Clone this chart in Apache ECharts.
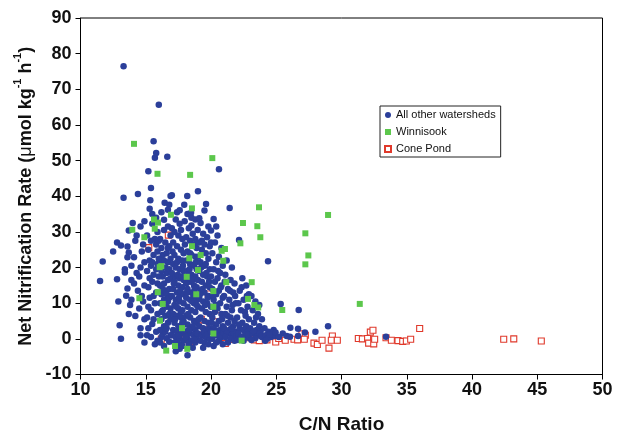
<!DOCTYPE html>
<html>
<head>
<meta charset="utf-8">
<style>html,body{margin:0;padding:0;background:#fff;}#c{width:629px;height:436px;}</style>
<script src="https://cdn.jsdelivr.net/npm/echarts@6/dist/echarts.min.js"></script>
</head>
<body>
<div id="c"></div>
<script>
// ---- DATA ----
const xTicks = {min: 10, max: 50, interval: 5};
const yTicks = {min: -10, max: 90, interval: 10};
const seriesNames = ['All other watersheds', 'Winnisook', 'Cone Pond'];

const allOther = [
[11.5,16.2],[11.7,21.7],
[12.5,24.5],[12.8,27.0],[12.8,16.7],[12.9,10.5],
[13.0,3.8],[13.1,0.0],[13.1,26.2],[13.3,76.5],[13.3,39.6],[13.4,18.6],[13.5,12.1],[13.6,14.1],[13.6,22.9],[13.6,25.9],[13.7,24.2],[13.7,7.0],[13.7,30.4],[13.9,16.5],[13.9,20.5],[13.8,9.5],[13.4,19.5],[13.9,11.0],
[14.0,32.5],[14.1,22.9],[14.2,6.4],[14.4,40.6],[14.2,27.5],[14.3,29.0],[14.5,17.5],[14.6,20.0],[14.4,13.5],[14.7,24.5],[14.8,10.5],[14.6,3.0],[14.9,21.5],[14.9,15.0],[14.5,8.5],[14.8,26.5],[14.3,18.5],[14.7,12.0],[14.9,5.5],[14.9,33.0],[14.6,31.5],[14.1,15.5],[14.9,-1.0],[14.6,1.0],
[15.1,1.0],[15.2,47.0],[15.4,42.3],[15.35,38.9],[15.5,4.2],[15.5,32.3],[15.6,55.4],[15.7,50.8],[15.8,52.1],[16.0,65.7],[15.1,29.0],[15.2,25.0],[15.3,22.0],[15.4,20.5],[15.6,18.0],[15.5,16.0],[15.2,14.5],[15.8,13.0],[15.3,11.5],[15.7,10.0],[15.4,8.0],[15.9,7.0],[15.6,5.5],[15.2,3.0],[15.8,2.0],[15.4,0.5],[15.9,-0.5],[15.6,23.5],[15.9,21.0],[15.8,26.5],[15.1,19.0],[15.7,28.0],[15.5,35.0],[15.9,30.0],[15.3,17.0],[15.6,12.0],[15.9,15.5],[15.2,9.0],[15.8,19.5],[15.4,27.5],[15.7,-1.5],[15.1,6.0],[15.9,24.5],[15.5,21.5],[15.3,36.5],[15.8,34.0],
[16.1,-1.0],[16.2,0.5],[16.3,1.5],[16.1,2.5],[16.4,3.5],[16.6,0.2],[16.8,-0.8],[16.5,2.0],[16.9,1.0],[16.7,4.5],
[16.2,5.5],[16.5,6.5],[16.8,7.0],[16.3,8.0],[16.6,9.0],[16.9,8.5],[16.1,10.0],[16.4,11.0],[16.7,10.5],[16.9,12.0],
[16.2,12.5],[16.5,13.5],[16.8,14.0],[16.1,15.0],[16.4,15.5],[16.7,16.5],[16.9,17.0],[16.3,17.5],[16.6,18.5],[16.2,19.0],
[16.5,20.0],[16.8,19.5],[16.1,21.0],[16.4,22.0],[16.7,21.5],[16.9,22.5],[16.3,23.5],[16.6,24.0],[16.2,25.5],[16.8,26.0],
[16.5,27.0],[16.1,28.0],[16.9,29.0],[16.4,30.5],[16.7,31.5],[16.4,33.4],[16.45,38.2],[16.8,37.6],[16.65,51.1],[16.9,40.1],
[16.3,14.0],[16.6,12.5],[16.0,17.5],[16.9,5.5],[16.2,7.5],[16.6,3.0],[16.4,-2.0],[16.8,11.5],[16.0,22.5],[16.7,25.5],[16.2,35.5],[16.0,27.5],[16.7,36.2],
[17.0,40.3],[17.4,35.5],[17.6,36.1],[17.95,37.6],[17.6,32.3],[17.98,33.0],[17.2,30.0],[17.5,29.0],[17.8,28.0],[17.1,27.0],
[17.4,26.0],[17.7,25.0],[17.9,24.0],[17.2,23.5],[17.5,22.5],[17.8,22.0],[17.1,21.0],[17.3,20.0],[17.6,19.5],[17.9,19.0],
[17.0,18.5],[17.3,17.5],[17.6,17.0],[17.9,16.5],[17.2,16.0],[17.5,15.0],[17.8,14.5],[17.1,14.0],[17.4,13.0],[17.7,12.5],
[17.0,12.0],[17.3,11.0],[17.6,10.5],[17.9,10.0],[17.2,9.5],[17.5,8.5],[17.8,8.0],[17.1,7.0],[17.4,6.5],[17.7,6.0],
[17.9,5.0],[17.2,4.5],[17.5,3.5],[17.8,3.0],[17.1,2.5],[17.4,2.0],[17.7,1.5],[17.0,1.0],[17.3,0.5],[17.6,0.0],
[17.9,-0.5],[17.2,-1.0],[17.5,-1.5],[17.8,-2.0],[17.3,-3.5],[17.6,-2.8],[17.45,18.0],[17.65,13.5],[17.85,20.5],[17.15,15.5],
[17.35,9.0],[17.55,11.5],[17.75,17.5],[17.25,5.5],[17.95,12.5],[17.05,24.5],[17.5,1.0],[17.8,4.5],[17.4,21.5],[17.7,7.5],[17.3,33.5],[17.7,30.5],[17.0,31.0],
[18.18,40.1],[18.2,35.0],[18.5,34.0],[18.8,33.5],[18.3,31.0],[18.98,30.5],[18.6,29.5],[18.1,28.5],[18.4,27.5],[18.7,26.5],
[18.9,25.5],[18.2,24.5],[18.5,23.5],[18.8,23.0],[18.1,22.0],[18.4,21.0],[18.7,20.5],[18.9,19.5],[18.2,19.0],[18.5,18.0],
[18.8,17.5],[18.1,16.5],[18.4,16.0],[18.7,15.0],[18.9,14.5],[18.2,14.0],[18.5,13.0],[18.8,12.5],[18.1,11.5],[18.4,11.0],
[18.7,10.0],[18.9,9.5],[18.2,9.0],[18.5,8.0],[18.8,7.5],[18.1,6.5],[18.4,6.0],[18.7,5.0],[18.9,4.5],[18.2,4.0],
[18.5,3.0],[18.8,2.5],[18.1,2.0],[18.4,1.5],[18.7,1.0],[18.9,0.5],[18.2,0.0],[18.5,-0.5],[18.8,-1.0],[18.3,-1.5],
[18.6,-2.5],[18.2,-4.6],[18.45,17.0],[18.65,12.0],[18.35,19.5],[18.75,14.0],[18.15,13.0],[18.55,10.5],[18.85,21.5],[18.25,7.0],
[18.6,3.5],[18.3,2.5],[18.9,1.5],[18.05,0.5],[18.7,-0.2],[18.4,24.0],[18.8,28.0],[18.1,15.5],[18.6,16.5],[18.95,11.0],[18.5,31.8],[18.47,35.4],[18.0,26.5],
[19.0,41.4],[19.62,37.8],[19.5,36.0],[19.2,32.5],[19.8,31.5],[19.4,29.5],[19.7,28.5],[19.1,27.0],[19.9,26.0],[19.3,25.0],
[19.6,24.0],[19.0,23.0],[19.8,22.5],[19.2,21.5],[19.5,20.5],[19.9,19.5],[19.1,19.0],[19.4,18.0],[19.7,17.5],[19.0,16.5],
[19.3,16.0],[19.6,15.0],[19.9,14.5],[19.2,13.5],[19.5,13.0],[19.8,12.0],[19.1,11.5],[19.4,10.5],[19.7,10.0],[19.0,9.0],
[19.3,8.5],[19.6,7.5],[19.9,7.0],[19.2,6.0],[19.5,5.0],[19.8,4.5],[19.1,3.5],[19.4,3.0],[19.7,2.0],[19.0,1.5],
[19.3,1.0],[19.6,0.5],[19.9,0.0],[19.2,-0.5],[19.5,-1.0],[19.8,-1.5],[19.4,-2.5],[19.65,18.5],[19.35,14.0],[19.85,16.0],
[19.15,12.5],[19.55,9.5],[19.75,11.5],[19.25,20.0],[19.45,2.0],[19.85,3.0],[19.05,5.5],[19.6,21.0],[19.3,27.5],[19.7,1.2],[19.1,33.8],[19.5,26.5],
[20.2,33.6],[20.0,30.4],[20.61,47.6],[20.5,29.0],[20.3,27.0],[20.8,25.5],[20.1,24.0],[20.6,23.0],[20.4,21.5],[20.9,20.5],
[20.2,19.5],[20.7,18.5],[20.0,17.5],[20.5,17.0],[20.3,16.0],[20.8,15.0],[20.1,14.0],[20.6,13.5],[20.4,12.5],[20.9,11.5],
[20.2,11.0],[20.7,10.0],[20.0,9.0],[20.5,8.5],[20.3,7.5],[20.8,7.0],[20.1,6.0],[20.6,5.0],[20.4,4.0],[20.9,3.5],
[20.2,3.0],[20.7,2.5],[20.0,2.0],[20.5,1.5],[20.3,1.0],[20.8,0.5],[20.1,0.0],[20.6,-0.5],[20.4,-1.0],[20.9,-1.5],
[20.2,-2.0],[20.75,14.5],[20.35,9.5],[20.55,19.0],[20.15,12.0],[20.85,5.5],[20.45,2.2],[20.65,0.8],[20.05,4.5],[20.95,1.8],[20.4,31.5],[20.0,27.0],
[21.43,36.7],[21.2,22.0],[21.6,20.0],[21.1,18.0],[21.5,16.5],[21.8,15.5],[21.3,14.0],[21.7,13.0],[21.0,12.0],[21.4,11.0],
[21.9,10.0],[21.2,9.0],[21.6,8.0],[21.1,7.0],[21.5,6.0],[21.8,5.0],[21.3,4.5],[21.7,3.5],[21.0,3.0],[21.4,2.5],
[21.9,2.0],[21.2,1.5],[21.6,1.0],[21.1,0.5],[21.5,0.0],[21.8,-0.5],[21.3,-1.0],[21.7,1.8],[21.45,13.5],[21.65,9.5],
[21.25,6.5],[21.85,12.0],[21.05,16.0],[21.55,3.0],[21.95,0.8],
[22.15,27.7],[22.4,17.0],[22.7,15.0],[22.2,13.5],[22.9,12.5],[22.5,11.0],[22.1,10.0],[22.8,9.0],[22.3,8.0],[22.6,7.5],
[22.0,6.0],[22.9,5.5],[22.4,4.5],[22.7,3.5],[22.2,3.0],[22.5,2.5],[22.8,2.0],[22.1,1.5],[22.6,1.0],[22.3,0.5],
[22.9,0.3],[22.0,-0.3],[22.5,-0.5],[22.75,12.0],[22.35,14.5],[22.65,6.5],[22.15,4.0],[22.85,1.2],
[23.1,12.0],[23.4,10.5],[23.7,9.5],[23.2,8.0],[23.6,7.0],[23.9,5.5],[23.3,4.5],[23.7,3.5],[23.0,3.0],[23.5,2.5],
[23.8,2.0],[23.2,1.5],[23.6,1.0],[23.9,0.5],[23.4,0.2],[23.1,-0.3],[23.75,1.5],[23.45,6.0],[23.85,0.8],[23.25,2.2],
[24.37,21.8],[24.1,3.0],[24.4,2.0],[24.7,1.5],[24.2,1.0],[24.6,0.5],[24.9,0.8],[24.3,0.0],[24.8,2.5],[24.5,1.2],[24.95,1.8],[24.15,-0.5],
[25.34,9.8],[25.5,1.5],[25.2,0.5],[25.8,0.8],[26.08,3.1],[26.67,2.8],[26.05,0.6],[26.67,0.8],[26.72,8.1],[27.2,1.8],[28.0,2.0],[28.97,3.5],[33.41,0.6]
];

const winnisook = [
[14.1,54.7],[15.9,46.3],[18.4,46.0],[20.1,50.7],
[23.68,36.9],[28.97,34.75],[22.45,32.5],[23.55,31.6],[27.23,29.6],[23.78,28.5],[22.25,26.8],[20.82,24.7],[21.07,25.2],
[27.46,23.4],[27.23,20.9],[20.94,21.9],[21.17,15.9],[23.12,15.9],[22.84,11.2],[23.32,9.5],[23.62,8.8],[25.46,8.1],
[31.4,9.8],[20.18,9.0],[22.35,-0.5],
[18.54,36.6],[16.93,34.8],[15.63,33.5],[15.94,32.6],[13.97,30.6],[15.69,30.9],[14.89,28.5],[18.54,26.0],[18.34,22.6],
[19.21,23.5],[16.19,20.4],[16.07,20.1],[19.0,19.3],[18.14,17.4],[20.18,13.4],[15.92,13.1],[14.51,11.4],[18.87,12.5],
[16.3,9.8],[16.09,5.1],[17.78,3.0],[17.24,-2.0],[16.57,-3.3],[18.18,-2.8],[20.18,1.5]
];

const conePond = [
[16.73,29.1],[15.23,25.6],[19.79,12.6],[19.26,5.5],[19.46,3.6],[20.46,6.5],[21.05,2.1],[21.1,-1.3],[21.63,-0.2],
[22.78,0.3],[23.32,-0.3],[23.7,-0.5],[24.29,-0.3],[24.96,-0.9],[25.19,0.1],[25.69,-0.4],[16.19,-0.1],[17.65,-0.1],
[18.34,-1.0],[19.16,1.1],[20.51,1.5],[21.86,-0.2],[26.36,-0.1],[26.64,-0.3],[26.97,1.4],[27.23,1.0],[27.15,-0.1],
[27.89,-1.2],[28.15,-1.6],[28.51,-0.4],[29.04,-2.6],[29.3,0.8],[29.22,-0.4],[29.68,-0.4],[31.29,0.1],[31.6,0.0],
[32.0,0.1],[32.08,-1.2],[32.21,1.9],[32.41,2.4],[32.47,-1.4],[32.54,-0.1],[33.41,0.3],[33.82,-0.4],[34.33,-0.5],
[34.69,-0.7],[34.97,-0.6],[35.3,-0.1],[35.99,2.9],[42.43,-0.1],[43.2,0.0],[45.31,-0.6]
];

// ---- CHART ----
const FONT = '"Liberation Sans", Arial, sans-serif';
const chart = echarts.init(document.getElementById('c'), null, {renderer: 'canvas'});
chart.setOption({
  animation: false,
  backgroundColor: '#fff',
  grid: {left: 80.5, right: 26.5, top: 18, bottom: 61.5, containLabel: false, outerBoundsMode: 'none',
         show: true, borderColor: '#000', borderWidth: 1, backgroundColor: 'transparent'},
  legend: {
    data: [
      {name: seriesNames[0]},
      {name: seriesNames[1]},
      {name: seriesNames[2]}
    ],
    orient: 'vertical', left: 380, top: 106,
    padding: [3, 5, 2, 4],
    itemWidth: 6, itemHeight: 6, itemGap: 5,
    borderColor: '#222', borderWidth: 1, backgroundColor: '#fff',
    textStyle: {fontFamily: FONT, fontSize: 11, color: '#111', lineHeight: 12}
  },
  xAxis: {
    type: 'value', min: xTicks.min, max: xTicks.max, interval: xTicks.interval,
    name: 'C/N Ratio', nameLocation: 'middle', nameGap: 41,
    nameTextStyle: {fontFamily: FONT, fontSize: 19, fontWeight: 'bold', color: '#111'},
    axisLine: {show: true, onZero: false, lineStyle: {color: '#000', width: 1}},
    axisTick: {show: true, inside: false, length: 5, lineStyle: {color: '#000'}},
    axisLabel: {fontFamily: FONT, fontSize: 18, fontWeight: 'bold', color: '#111', margin: 7},
    splitLine: {show: false}
  },
  yAxis: {
    type: 'value', min: yTicks.min, max: yTicks.max, interval: yTicks.interval,
    name: '{a|Net Nitrification Rate (}{m|μ}{a|mol kg}{s|-1}{a| h}{s|-1}{a|)}',
    nameLocation: 'middle', nameGap: 43,
    nameTextStyle: {
      fontFamily: FONT, color: '#111',
      rich: {
        a: {fontFamily: FONT, fontSize: 18, fontWeight: 'bold', color: '#111', lineHeight: 22, verticalAlign: 'bottom'},
        m: {fontFamily: FONT, fontSize: 18, fontWeight: 'normal', color: '#111', lineHeight: 22, verticalAlign: 'bottom'},
        s: {fontFamily: FONT, fontSize: 11, fontWeight: 'bold', color: '#111', lineHeight: 22, verticalAlign: 'top', padding: [0, 0, 6, 0]}
      }
    },
    axisLine: {show: true, onZero: false, lineStyle: {color: '#000', width: 1}},
    axisTick: {show: true, inside: false, length: 5, lineStyle: {color: '#000'}},
    axisLabel: {fontFamily: FONT, fontSize: 18, fontWeight: 'bold', color: '#111', margin: 9},
    splitLine: {show: false}
  },
  series: [
    {
      name: seriesNames[2], type: 'scatter', data: conePond, symbol: 'rect', symbolSize: 6, z: 2,
      itemStyle: {color: '#ffffff', borderColor: '#e0392b', borderWidth: 1.1, opacity: 1}
    },
    {
      name: seriesNames[0], type: 'scatter', data: allOther, symbol: 'circle', symbolSize: 6.5, z: 3,
      itemStyle: {color: '#2b3f9a', opacity: 1}
    },
    {
      name: seriesNames[1], type: 'scatter', data: winnisook, symbol: 'rect', symbolSize: 6, z: 4,
      itemStyle: {color: '#5cc74c', opacity: 1}
    }
  ]
});
</script>
</body>
</html>
